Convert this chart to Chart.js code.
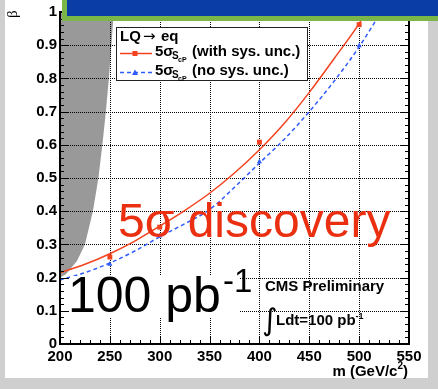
<!DOCTYPE html>
<html>
<head>
<meta charset="utf-8">
<script src="https://cdn.jsdelivr.net/npm/chart.js@4"></script>
<style>
  html, body { margin: 0; padding: 0; }
  body { width: 438px; height: 389px; background: #cfcfcf; position: relative; overflow: hidden; }
  #panel { position: absolute; left: 5px; top: 0; width: 423px; height: 378px; background: #fff; }
  #chart { position: absolute; left: 0; top: 0; }
  /* slide title bar that overlaps the top of the plot */
  #banner { position: absolute; left: 62px; top: -20px; width: 400px; height: 31px;
            background: #0a3ea6; border: 5px solid #7ab648; }
</style>
</head>
<body>
<div id="panel"></div>
<canvas id="chart" width="438" height="389"></canvas>
<div id="banner"></div>
<script>
// LQ -> eq, 5 sigma discovery reach in (m, beta), 100 pb^-1.

const xTicks = [200, 250, 300, 350, 400, 450, 500, 550];
const xTickLabels = ['200', '250', '300', '350', '400', '450', '500', '550'];
const yTicks = [0, 0.1, 0.2, 0.3, 0.4, 0.5, 0.6, 0.7, 0.8, 0.9, 1];
const yTickLabels = ['0', '0.1', '0.2', '0.3', '0.4', '0.5', '0.6', '0.7', '0.8', '0.9', '1'];

// fitted curve, with systematic uncertainty
const fitMassSys = [200, 225, 250, 275, 300, 325, 350, 375, 400, 425, 450, 475, 500, 507];
const fitBetaSys = [0.215, 0.24, 0.272, 0.31, 0.355, 0.402, 0.454, 0.515, 0.585, 0.665, 0.758, 0.86, 0.965, 1.0];
const pointMassSys = [250, 300, 400, 500];
const pointBetaSys = [0.262, 0.352, 0.608, 0.962];

// fitted curve, no systematic uncertainty
const fitMassNoSys = [200, 225, 250, 275, 300, 325, 350, 375, 400, 425, 450, 475, 500, 522];
const fitBetaNoSys = [0.193, 0.215, 0.244, 0.28, 0.323, 0.362, 0.405, 0.472, 0.545, 0.617, 0.7, 0.792, 0.895, 1.0];
const pointMassNoSys = [250, 300, 400, 500];
const pointBetaNoSys = [0.24, 0.325, 0.549, 0.898];

// excluded region (grey), boundary from left
const exclMass = [200, 206, 217, 225, 233, 238.5, 242.5, 246, 249, 251.5, 254];
const exclBeta = [0.2, 0.21, 0.25, 0.3, 0.4, 0.5, 0.6, 0.7, 0.8, 0.9, 1.0];

const RED = '#f4421e';
const BLUE = '#2f5bff';
const FONT = '"Liberation Sans", Arial, Helvetica, sans-serif';
const EXCL_INDEX = 4;

const pts = (xs, ys) => xs.map((x, i) => ({ x, y: ys[i] }));

// Dotted grid (one pixel on, one off) drawn right after the grey region,
// so it sits on top of the fill but under the curves and markers.
const dottedGrid = {
  id: 'dottedGrid',
  afterDatasetDraw(chart, args) {
    if (args.index !== EXCL_INDEX) return;
    const { ctx, chartArea: a, scales } = chart;
    ctx.save();
    ctx.fillStyle = '#000';
    const top = Math.ceil(a.top), bottom = Math.floor(a.bottom);
    const left = Math.ceil(a.left), right = Math.floor(a.right);
    xTicks.forEach(v => {
      const px = Math.round(scales.x.getPixelForValue(v));
      for (let py = top; py < bottom; py += 2) ctx.fillRect(px, py, 1, 1);
    });
    yTicks.forEach(v => {
      const py = Math.round(scales.y.getPixelForValue(v));
      for (let px = left; px < right; px += 2) ctx.fillRect(px, py, 1, 1);
    });
    ctx.restore();
  }
};

// Frame, ROOT-style inner ticks, legend and the overlaid labels.
const decor = {
  id: 'decor',
  afterDraw(chart) {
    const { ctx, chartArea: a, scales } = chart;
    const sx = scales.x, sy = scales.y;
    ctx.save();
    ctx.setLineDash([]);
    const ln = (x1, y1, w, h) => ctx.fillRect(x1, y1, w, h);

    // white text box behind "100 pb-1"
    ctx.fillStyle = '#fff';
    ctx.fillRect(70, 276, 170, 42);

    // tick marks on all four sides
    ctx.fillStyle = '#000';
    for (let i = 0; i <= 35; i++) {
      const px = Math.round(sx.getPixelForValue(200 + i * 10));
      const len = i % 5 === 0 ? 8 : 4;
      ln(px, a.bottom - len, 1, len);
      ln(px, a.top, 1, len);
    }
    for (let i = 0; i <= 50; i++) {
      const py = Math.round(sy.getPixelForValue(i * 0.02));
      const len = i % 5 === 0 ? 8 : 4;
      ln(a.left, py, len, 1);
      ln(a.right - len, py, len, 1);
    }
    // frame, 2px
    ln(a.left - 1, a.top - 1, 2, a.bottom - a.top + 2);
    ln(a.right - 1, a.top - 1, 2, a.bottom - a.top + 2);
    ln(a.left - 1, a.bottom - 1, a.right - a.left + 2, 2);
    ln(a.left - 1, a.top - 1, a.right - a.left + 2, 2);

    // y title (top, rotated) and x title (right)
    ctx.save();
    ctx.translate(17, 18);
    ctx.rotate(-Math.PI / 2);
    ctx.font = '15px "Liberation Serif", serif';
    ctx.textAlign = 'left';
    ctx.textBaseline = 'alphabetic';
    ctx.fillText('β', 0, 0);
    ctx.restore();

    ctx.textBaseline = 'alphabetic';
    ctx.textAlign = 'left';
    ctx.font = 'bold 15px ' + FONT;
    const t1 = 'm (GeV/c', t3 = ')';
    const w1 = ctx.measureText(t1).width, w3 = ctx.measureText(t3).width;
    ctx.font = 'bold 10px ' + FONT;
    const w2 = ctx.measureText('2').width;
    const tx = 408 - (w1 + w2 + w3);
    ctx.font = 'bold 15px ' + FONT;
    ctx.fillText(t1, tx, 376);
    ctx.font = 'bold 10px ' + FONT;
    ctx.fillText('2', tx + w1, 369);
    ctx.font = 'bold 15px ' + FONT;
    ctx.fillText(t3, tx + w1 + w2, 376);

    // legend
    ctx.fillStyle = '#fff';
    ctx.fillRect(116, 27, 192, 54);
    ctx.fillStyle = '#222';
    ln(116, 27, 192, 1);
    ln(116, 80, 192, 1);
    ln(116, 27, 1, 54);
    ln(307, 27, 1, 54);

    ctx.fillStyle = '#000';
    ctx.font = 'bold 15px ' + FONT;
    ctx.fillText('LQ', 120, 41);
    ctx.font = '15px "DejaVu Sans", sans-serif';
    ctx.fillText('→', 143, 41);
    ctx.font = 'bold 15px ' + FONT;
    ctx.fillText('eq', 161, 41);

    const row = (by, txt) => {
      ctx.fillStyle = '#000';
      ctx.font = 'bold 15px ' + FONT;
      ctx.fillText('5σ', 155, by);
      ctx.font = 'bold 10px ' + FONT;
      ctx.fillText('S', 172, by + 3);
      ctx.font = 'bold 7px ' + FONT;
      ctx.fillText('cP', 178, by + 6);
      ctx.font = 'bold 15px ' + FONT;
      ctx.fillText(txt, 192, by);
    };
    row(56, '(with sys. unc.)');
    row(75, '(no sys. unc.)');

    ctx.strokeStyle = RED;
    ctx.lineWidth = 1.5;
    ctx.beginPath(); ctx.moveTo(120, 53.5); ctx.lineTo(152, 53.5); ctx.stroke();
    ctx.fillStyle = RED;
    ctx.fillRect(132.5, 51, 5, 5);

    ctx.strokeStyle = BLUE;
    ctx.setLineDash([4, 3]);
    ctx.beginPath(); ctx.moveTo(120, 72.5); ctx.lineTo(152, 72.5); ctx.stroke();
    ctx.setLineDash([]);
    ctx.fillStyle = BLUE;
    ctx.beginPath();
    ctx.moveTo(135, 69.5); ctx.lineTo(138, 75); ctx.lineTo(132, 75); ctx.closePath();
    ctx.fill();

    // overlaid labels
    ctx.fillStyle = '#ea3010';
    ctx.font = '48px ' + FONT;
    ctx.fillText('5σ discovery', 118, 237);

    ctx.fillStyle = '#000';
    ctx.font = '50px ' + FONT;
    ctx.fillText('100 pb', 68, 312);
    const wpb = ctx.measureText('100 pb').width;
    ctx.font = '33px ' + FONT;
    ctx.fillText('-1', 68 + wpb + 2, 292);

    ctx.font = 'bold 15px ' + FONT;
    ctx.fillText('CMS Preliminary', 265, 291);
    ctx.fillText('Ldt=100 pb', 276, 325);
    const wl = ctx.measureText('Ldt=100 pb').width;
    ctx.font = 'bold 9px ' + FONT;
    ctx.fillText('-1', 276 + wl, 319);
    ctx.font = '30px "DejaVu Sans", sans-serif';
    ctx.fillText('∫', 262, 330);

    ctx.restore();
  }
};

const tickFont = { family: FONT, size: 15, weight: 'bold' };

new Chart(document.getElementById('chart'), {
  type: 'line',
  data: {
    datasets: [
      {
        data: pts(fitMassSys, fitBetaSys),
        borderColor: RED, borderWidth: 1.5, pointRadius: 0,
        cubicInterpolationMode: 'monotone', fill: false, order: 1
      },
      {
        data: pts(pointMassSys, pointBetaSys),
        showLine: false, pointStyle: 'rect', pointRadius: 3.5,
        pointBackgroundColor: RED, pointBorderColor: RED, pointBorderWidth: 0, order: 0
      },
      {
        data: pts(fitMassNoSys, fitBetaNoSys),
        borderColor: BLUE, borderWidth: 1.5, borderDash: [4, 3], pointRadius: 0,
        cubicInterpolationMode: 'monotone', fill: false, order: 2
      },
      {
        data: pts(pointMassNoSys, pointBetaNoSys),
        showLine: false, pointStyle: 'triangle', pointRadius: 3,
        pointBackgroundColor: BLUE, pointBorderColor: BLUE, pointBorderWidth: 0, order: 0
      },
      {
        data: pts(exclMass, exclBeta),
        borderWidth: 0, borderColor: 'rgba(0,0,0,0)', pointRadius: 0,
        backgroundColor: '#999999', fill: 'end', order: 10
      }
    ]
  },
  options: {
    responsive: false,
    animation: false,
    layout: { padding: { left: 0, right: 29, top: 5, bottom: 0 } },
    plugins: { legend: { display: false }, tooltip: { enabled: false } },
    scales: {
      x: {
        type: 'linear', min: 200, max: 550,
        afterFit: s => { s.height = 45; },
        afterBuildTicks: s => { s.ticks = xTicks.map(v => ({ value: v })); },
        grid: { display: false, drawTicks: false },
        border: { display: false },
        ticks: {
          callback: (v, i) => xTickLabels[i], font: tickFont, color: '#000',
          padding: 4, autoSkip: false, maxRotation: 0
        }
      },
      y: {
        type: 'linear', min: 0, max: 1,
        afterFit: s => { s.width = 60; },
        afterBuildTicks: s => { s.ticks = yTicks.map(v => ({ value: v })); },
        grid: { display: false, drawTicks: false },
        border: { display: false },
        ticks: {
          callback: (v, i) => yTickLabels[i], font: tickFont, color: '#000',
          padding: 3, autoSkip: false
        }
      }
    }
  },
  plugins: [dottedGrid, decor]
});
</script>
</body>
</html>
